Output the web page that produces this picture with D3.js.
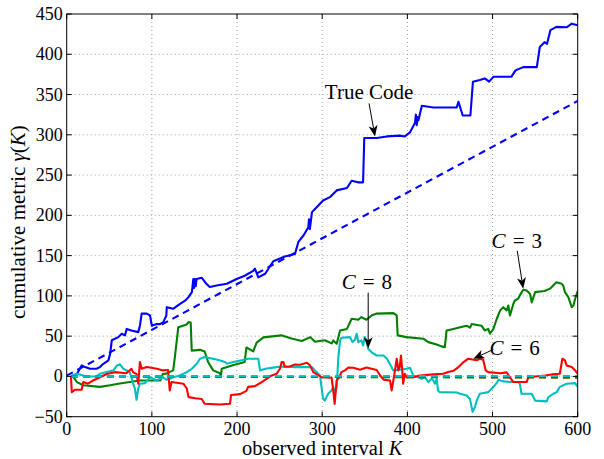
<!DOCTYPE html>
<html><head><meta charset="utf-8">
<script src="https://cdn.jsdelivr.net/npm/d3@7"></script>
<style>
html,body{margin:0;padding:0;background:#fff;}
svg{display:block;font-family:"Liberation Serif","Times New Roman",serif;}
</style></head>
<body><svg id="chart" width="604" height="459"></svg>
<script>
// ---- data ----
const xTicks = [0,100,200,300,400,500,600];
const yTicks = [-50,0,50,100,150,200,250,300,350,400,450];

const trueK = [5,12,17.6,21.5,27.4,35,39,43,49,51,53,60.6,64.6,68.5,70.4,76,84,86,88,94,97.8,100,105.7,109.5,113.4,117,117.5,125,133,139,143,147,148.7,149.5,150.5,151.5,152.6,158.5,164,168,176,188,199.6,209,219,221,225,233,242.6,256,268,272,278,283.6,284.5,285.5,288,293.5,301,309,317,329,334.6,342,348,349.4,364,376,391,397,403,409,410,411,412,413,417,430.5,458,460,465,474,477,485,491,496,501,522,527,536,552,555.5,561,564,568,575,587,593,600];
const trueV = [0,3,13.7,11.6,9.5,9.5,11.6,15.7,20,28,45,48.8,53,51,59,57,55,63,78,78,75.7,63,65,65,67.4,75.7,86,84,90,94,98.5,104.7,121,110,121,112,121,122.6,115,111,113,115,121,125,131,134,123,127.5,143,149,152,167,175,185,195,183,204,210,218.5,222.6,231,234,243,241,241,296,296,298,299,298,303,315,325,312,322,318,336,334,334,341,324,324,366,368,370,366,372,372,380,384,384,409,415,413,430,434,433.5,438,436];
const trueBaseK = [0,600];
const trueBaseV = [1,342];

const c3K = [5,8,12,19.5,39,51,60.6,74,86,110,112.7,117,125,127,131,141,143,145.6,146.8,156.5,162,166,172,180,181,182,194,209,211,219,223,231,252,264,276,286,291.5,303,311,313,317,321,329,334.6,342.4,346,352,358,364,383.5,387.5,388.6,399,418.7,424.6,434.4,440,444,446,454,462,469.6,473.5,475.5,487,491,495,497,501,505,509,512.6,516.6,518.5,520.5,524.4,526,530,532,536,540,544,546,550,561,567.5,575,581,583,585,589,593,595,597,600];
const c3V = [0,-1,-7,-11,-13,-11,-9,-7,-5,-5,3,3.5,7.5,24,61,64.6,67.5,67,32,33,31,18,7.5,4,0,9.5,13.7,17.8,36,31,42,48.5,51,47,44,48.8,43,45,41,44.7,40.6,57,59,71.6,70.4,73.7,70.4,75.7,78,78.6,75.7,51,48.8,46.8,42.6,39.7,37.3,36.4,57,59,61,63,60.5,65,63,57,59,53,59,71.6,82,86,82,88,75.7,90,94,96.5,100.6,107.6,106.8,102.7,92,104.7,106,109,117,115,113,104.7,98.5,86,88,96.5,106];

const c6K = [5,6,10,17.6,19.5,25,31,39,47,56.7,70,76,78,82,84,86,88,94,106,113,119,121,123,137,141,143,151,158.5,162,180,191.7,193,203.5,211,213,221,229,240.7,246.5,250.4,252.4,254.4,256,262,268,274,282,285.7,289.5,299,311,313,314.6,317,320,322.6,326.8,330.7,336.5,344.4,352,358,364,368,372,379.6,381.6,385.5,387.5,389.4,391,392.5,394,395,397,399,407,414.8,430.5,442,448,454,460,466,471.5,481.4,485,489,492,495,509,516.6,520.5,524.4,540,542,561.6,569.5,579,582,585,587,593,597,600];
const c6V = [0,-19.5,-16.5,-16.5,-7,-9,-5,-1,3,5.3,4,9.5,5,3,-9,17.8,9.5,11.6,9.5,7.5,8,-17.4,-7,-9,-15,-25.7,-27,-28,-34,-34.8,-34,-23,-22,-18,-13,-12,-7,1.2,3.3,9.5,17.8,17.8,12,12.4,14.9,14.5,17,13.7,5.3,-1,-1.6,-17.4,-34,-5,-1,5.4,7.5,11,10.8,8.3,11,9.5,8,1.2,-4,-5,-17.4,7.5,22,7.5,11.6,26,7.5,-9,3.3,-1,-1,1.2,2.5,3.3,5.4,7,11.6,17.8,22,20,22,20.7,7.5,5.3,4,5,-1,-7,-7,-1,1.2,2.5,3.3,22,20,13.7,11.6,7.5,3.3];

const c8K = [5,12,23.5,35,39,47,55,59,62.6,66.5,74,76,78,80,82,84,86,92,97.8,105.7,113,117,121,125,133,141,147,152.6,156.5,162,176,186,188,195.6,205.5,213,221,225,227,233,246.5,254,268,288,291.5,297.4,301,303,307,311,313,315,317,319,321,322.6,332.6,335.5,338.5,340.4,342.4,346,348,350,352,354,358,364,372,376,379.6,383.5,391,399,403,407,413,417,420.7,424.6,428.5,430.5,432.4,434.4,436,438,458,462,469.6,473.5,476.6,479.4,481.4,485,495,501,505,507,511,520.5,530,532,534,546,550,563.6,565.5,571.4,575.4,579,587,597,600];
const c8V = [0,3.3,0,0,3.3,5.4,7.5,13.7,15,9.5,5.4,-1,-9,-15,-29,-15,-9,-8.3,-1,-5,-1,-4,-3,-1,1.2,5.4,9.5,15.7,22,24,21,17.8,15.7,17.8,20,22,22,22,7.5,9.5,11.6,12.4,11.6,11.6,7.5,1.2,-27.8,-30,-21.5,-17.4,-13,-21.5,-13,24,44.7,48,48.8,42.6,45.6,53,42.6,44.7,38.5,48.8,44.7,34.3,30,26,26,22,15,7.5,8.3,9.5,10.8,1.2,-1,-3,-1,-7,-3,-5,-9,-3,-17.4,-19.5,-20,-21.5,-23.6,-28,-44,-38,-30,-21.5,-19.5,-13,-8,-4,-5.8,-7,-7,-9,-21.5,-21.5,-30,-31,-25.7,-21.5,-19.5,-13,-9,-8.3,-13];

const c3BaseK = [5,600], c3BaseV = [0,-1.5];
const c6BaseK = [5,600], c6BaseV = [0,-1];
const c8BaseK = [5,600], c8BaseV = [0,0.6];

// annotations
const annotations = [
  {parts:[["True Code",false]], tx:355, ty:345, fx:355, fy:339, ax:362, ay:298},
  {parts:[["C",true],["\u2004=\u20048",false]], tx:352.5, ty:108, fx:354, fy:104, ax:354, ay:35},
  {parts:[["C",true],["\u2004=\u20043",false]], tx:528.5, ty:159, fx:529, fy:156, ax:536, ay:109},
  {parts:[["C",true],["\u2004=\u20046",false]], tx:526, ty:26, fx:501, fy:33.5, ax:477.5, ay:22}
];

// ---- chart ----
const svg = d3.select("#chart");
const L = 66.7, R = 577.7, T = 14, B = 416.7;
const x = d3.scaleLinear().domain([0,600]).range([L,R]);
const y = d3.scaleLinear().domain([-50,450]).range([B,T]);

// grid
const grid = svg.append("g");
grid.selectAll("line.gx").data(xTicks.slice(1,-1)).enter().append("line")
  .attr("x1",d=>x(d)).attr("x2",d=>x(d)).attr("y1",T).attr("y2",B)
  .attr("stroke","#888").attr("stroke-width",0.8).attr("stroke-dasharray","1,3");
grid.selectAll("line.gy").data(yTicks.slice(1,-1)).enter().append("line")
  .attr("y1",d=>y(d)).attr("y2",d=>y(d)).attr("x1",L).attr("x2",R)
  .attr("stroke","#888").attr("stroke-width",0.8).attr("stroke-dasharray","1,3");

svg.append("clipPath").attr("id","cp").append("rect")
  .attr("x",L).attr("y",T).attr("width",R-L).attr("height",B-T);
const plot = svg.append("g").attr("clip-path","url(#cp)");

function draw(ks, vs, color, dash, w){
  const pts = ks.map((k,i)=>[k,vs[i]]);
  const line = d3.line().x(d=>x(d[0])).y(d=>y(d[1]));
  plot.append("path").attr("d",line(pts)).attr("fill","none")
    .attr("stroke",color).attr("stroke-width",w||2.1)
    .attr("stroke-linejoin","round")
    .attr("stroke-dasharray",dash||null);
}
const BLUE="#0000ff", GREEN="#008000", RED="#ff0000", CYAN="#00bfbf";
draw(trueK,trueV,BLUE);
draw(trueBaseK,trueBaseV,BLUE,"7,5");
draw(c3K,c3V,GREEN);
draw(c8K,c8V,CYAN);
draw(c6K,c6V,RED);
draw(c3BaseK,c3BaseV,GREEN,"7,5");
draw(c6BaseK,c6BaseV,RED,"7,5");
draw(c8BaseK,c8BaseV,CYAN,"7,5");

// axes box + ticks
const tl = 5;
const ax = svg.append("g");
ax.append("rect").attr("x",L).attr("y",T).attr("width",R-L).attr("height",B-T)
  .attr("fill","none").attr("stroke","#000").attr("stroke-width",1);
xTicks.forEach(t=>{
  ax.append("line").attr("x1",x(t)).attr("x2",x(t)).attr("y1",B).attr("y2",B-tl).attr("stroke","#000");
  ax.append("line").attr("x1",x(t)).attr("x2",x(t)).attr("y1",T).attr("y2",T+tl).attr("stroke","#000");
  ax.append("text").attr("x",x(t)).attr("y",434.5).attr("text-anchor","middle")
    .attr("font-size",18).text(t);
});
yTicks.forEach(t=>{
  ax.append("line").attr("y1",y(t)).attr("y2",y(t)).attr("x1",L).attr("x2",L+tl).attr("stroke","#000");
  ax.append("line").attr("y1",y(t)).attr("y2",y(t)).attr("x1",R).attr("x2",R-tl).attr("stroke","#000");
  ax.append("text").attr("x",L-4).attr("y",y(t)+6).attr("text-anchor","end")
    .attr("font-size",18).text(t===-50?"\u221250":t);
});

// axis labels
const xl = svg.append("text").attr("x",(L+R)/2).attr("y",455).attr("text-anchor","middle").attr("font-size",20.5);
xl.append("tspan").text("observed interval ");
xl.append("tspan").attr("font-style","italic").text("K");
const yl = svg.append("text").attr("transform",`translate(25,222) rotate(-90)`)
  .attr("text-anchor","middle").attr("font-size",21);
yl.append("tspan").text("cumulative metric ");
yl.append("tspan").attr("font-style","italic").text("γ");
yl.append("tspan").text("(");
yl.append("tspan").attr("font-style","italic").text("K");
yl.append("tspan").text(")");

// annotations
annotations.forEach(a=>{
  const t = svg.append("text").attr("x",x(a.tx)).attr("y",y(a.ty))
    .attr("text-anchor","middle").attr("font-size",21);
  a.parts.forEach(p=>t.append("tspan").attr("font-style",p[1]?"italic":null).text(p[0]));
  const x1=x(a.fx), y1=y(a.fy), x2=x(a.ax), y2=y(a.ay);
  const ang = Math.atan2(y2-y1,x2-x1);
  const hl=11, hw=4.5;
  const bx = x2-hl*Math.cos(ang), by = y2-hl*Math.sin(ang);
  svg.append("line").attr("x1",x1).attr("y1",y1).attr("x2",bx+3*Math.cos(ang)).attr("y2",by+3*Math.sin(ang))
    .attr("stroke","#000").attr("stroke-width",1);
  const px=-Math.sin(ang), py=Math.cos(ang);
  const ix = x2-(hl-3)*Math.cos(ang), iy = y2-(hl-3)*Math.sin(ang);
  svg.append("path").attr("d",`M${x2},${y2}L${bx+hw*px},${by+hw*py}L${ix},${iy}L${bx-hw*px},${by-hw*py}Z`)
    .attr("fill","#000");
});
</script></body></html>
